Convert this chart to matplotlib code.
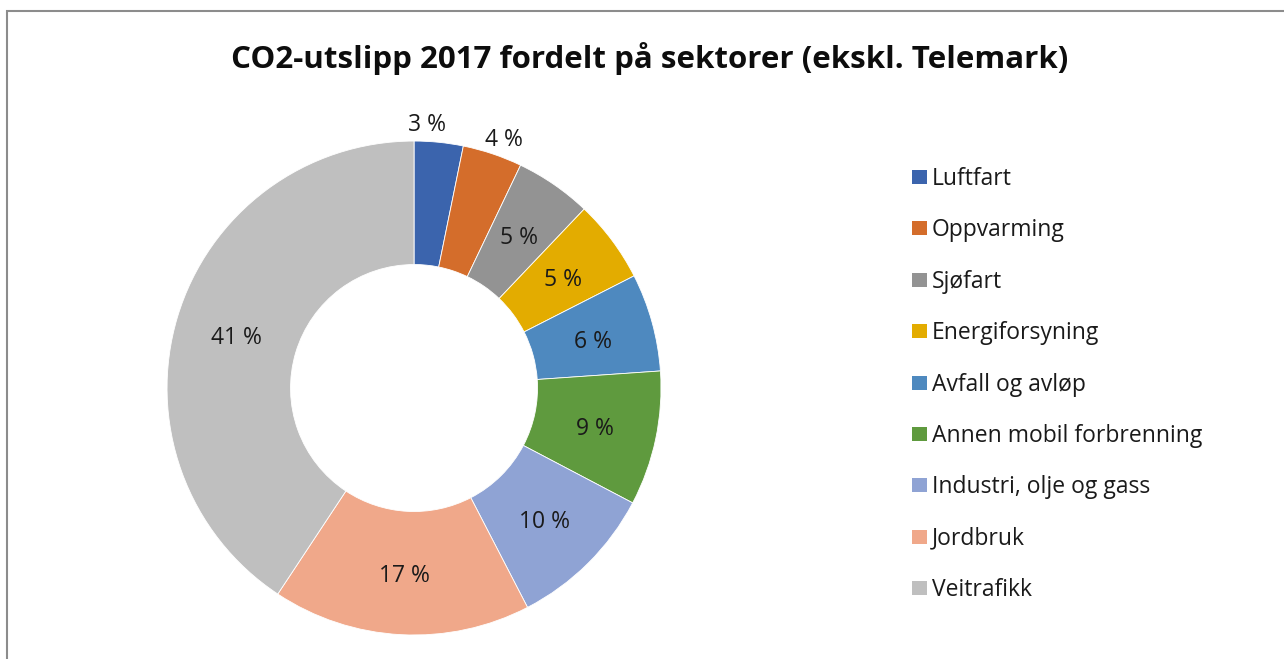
import numpy as np
import matplotlib
matplotlib.use("Agg")
import matplotlib.pyplot as plt
from matplotlib.patches import Rectangle

sectors = ["Luftfart", "Oppvarming", "Sjøfart", "Energiforsyning", "Avfall og avløp",
           "Annen mobil forbrenning", "Industri, olje og gass", "Jordbruk", "Veitrafikk"]
shares = [3.2, 3.9, 5.0, 5.4, 6.4, 8.8, 9.7, 16.9, 40.7]
colors = ["#3B64AD", "#D46D2B", "#939393", "#E3AC00", "#4E89BF",
          "#5F9A3E", "#8FA3D4", "#F0A88A", "#BFBFBF"]
outside = [True, True, False, False, False, False, False, False, False]

plt.rcParams['font.family'] = ['Open Sans', 'DejaVu Sans']

fig = plt.figure(figsize=(12.84, 6.59), dpi=100)

# frame of the chart area (cropped at right/bottom in the original)
fig.patches.append(Rectangle((7 / 1284, -0.1), 1.2, (659 - 11) / 659 + 0.1,
                             transform=fig.transFigure, fill=False,
                             edgecolor="#8c8c8c", linewidth=1.5))

fig.text(650 / 1284, 1 - 68 / 659, "CO2-utslipp 2017 fordelt på sektorer (ekskl. Telemark)",
         ha="center", va="baseline", fontsize=22.5, fontweight="bold", color="#0d0d0d")

ax = fig.add_axes([0.1301, 0.0364, 0.3847, 0.7496])
wedges, _ = ax.pie(shares, colors=colors, startangle=90, counterclock=False,
                   radius=1.0, wedgeprops=dict(width=0.5, edgecolor="white", linewidth=0.6))
ax.set_xlim(-1, 1)
ax.set_ylim(-1, 1)
ax.set_aspect("equal")
ax.axis("off")

# outside labels are nudged a bit like Excel's best-fit placement
nudge = {0: 3.0, 1: -1.1}
for i, (w, s, out) in enumerate(zip(wedges, shares, outside)):
    ang = np.deg2rad((w.theta1 + w.theta2) / 2 + nudge.get(i, 0))
    r = 1.08 if out else 0.75
    ax.text(r * np.cos(ang), r * np.sin(ang), f"{round(s)} %", ha="center",
            va="center_baseline", fontsize=16.5, color="#1a1a1a")

# legend
for i, (name, c) in enumerate(zip(sectors, colors)):
    base = 185 + i * 51.4
    fig.patches.append(Rectangle((912 / 1284, 1 - (base - 1) / 659), 15 / 1284, 14 / 659,
                                 transform=fig.transFigure, facecolor=c, edgecolor="none"))
    fig.text(932 / 1284, 1 - base / 659, name, ha="left", va="baseline",
             fontsize=16.5, color="#1a1a1a")

fig.savefig("out.png", dpi=100)
